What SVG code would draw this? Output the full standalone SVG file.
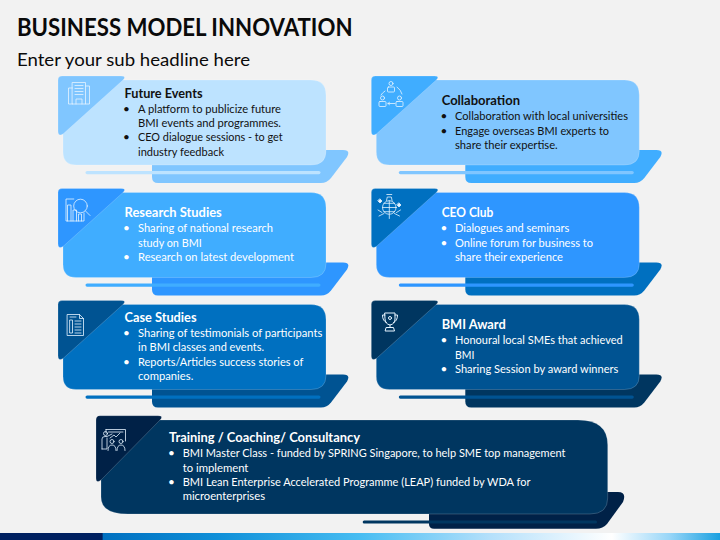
<svg xmlns="http://www.w3.org/2000/svg" xmlns:xlink="http://www.w3.org/1999/xlink" width="720" height="540" viewBox="0 0 720 540">
<style>
text{font-family:"Lato","Liberation Sans",sans-serif;fill:#fff}
.h{font-weight:700;font-size:13.4px}
.b{font-size:11.8px}
.m{text-anchor:middle;font-size:11.8px}
.dk text{fill:#111}
.ic{fill:none;stroke:#e6f4ff;stroke-width:.8;stroke-linecap:round;stroke-linejoin:round}
.edge{stroke:#fff;stroke-opacity:.3;stroke-width:.6}
</style>
<defs>
<linearGradient id="strip" gradientUnits="userSpaceOnUse" x1="0" y1="0" x2="720" y2="0">
<stop offset="0" stop-color="#002060"/><stop offset=".142" stop-color="#002060"/><stop offset=".143" stop-color="#0070c0"/><stop offset=".3" stop-color="#0f8fd8"/><stop offset=".5" stop-color="#47bdf2"/><stop offset=".68" stop-color="#b4e0fb"/><stop offset=".85" stop-color="#fff"/><stop offset=".93" stop-color="#98d6f8"/><stop offset="1" stop-color="#1aa0e0"/>
</linearGradient>
<path id="back" d="M152,155V177Q152,183 158,183H321Q327,183 331,178L347,157Q351,150 343,150H152Z"/>
<path id="main" d="M63,80H311Q326,80 326,95V151Q326,165 311,165H76Q63,165 63,152Z"/>
<rect id="line" x="85.500" y="171" width="235" height="3.200" rx="1.600"/>
<path id="tab" d="M62,76H121Q127,76 123,80L63,134Q58,137 58,131V80Q58,76 62,76Z"/>
</defs>
<rect width="720" height="540" fill="#f2f2f2"/>
<text x="17" y="36" font-size="24" font-weight="700" style="fill:#0a0a0a" textLength="335.500" lengthAdjust="spacingAndGlyphs">BUSINESS MODEL INNOVATION</text>
<text x="17" y="65.700" font-size="18" style="fill:#0a0a0a" textLength="233" lengthAdjust="spacingAndGlyphs">Enter your sub headline here</text>

<g id="connectors"/>

<g id="node-future-events" class="dk">
<use xlink:href="#back" href="#back" fill="#80c6ff"/>
<use xlink:href="#main" href="#main" fill="#bde3ff" class="edge"/>
<use xlink:href="#line" href="#line" fill="#bde3ff"/>
<use xlink:href="#tab" href="#tab" fill="#80c6ff" class="edge"/>
<g class="ic">
<path d="M72.500,82.500H85.500V104H72.500ZM72.500,88H68.500V104H72.500M85.500,86H89.500V104H85.500M76,104V99H82V104M75,85.500h8M75,88.500h8M75,91.500h8M75,94.500h8"/>
</g>
<text class="h" x="124.500" y="98" textLength="78" lengthAdjust="spacingAndGlyphs">Future Events</text>
<text class="m" x="126.500" y="112.700">•</text><text class="b" x="138" y="112.700" textLength="143" lengthAdjust="spacingAndGlyphs">A platform to publicize future</text>
<text class="b" x="138" y="127" textLength="143" lengthAdjust="spacingAndGlyphs">BMI events and programmes.</text>
<text class="m" x="126.500" y="141.300">•</text><text class="b" x="138" y="141.300" textLength="144.700" lengthAdjust="spacingAndGlyphs">CEO dialogue sessions - to get</text>
<text class="b" x="138" y="155.700" textLength="86" lengthAdjust="spacingAndGlyphs">industry feedback</text>
</g>

<g id="node-collaboration" class="dk">
<g transform="translate(313.300,0)">
<use xlink:href="#back" href="#back" fill="#40adff"/>
<use xlink:href="#main" href="#main" fill="#80c6ff" class="edge"/>
<use xlink:href="#line" href="#line" fill="#80c6ff"/>
<use xlink:href="#tab" href="#tab" fill="#40adff" class="edge"/>
</g>
<g class="ic">
<circle cx="391" cy="83.500" r="2"/><rect x="387.500" y="87" width="7" height="5" rx="1"/>
<circle cx="382.500" cy="98" r="2"/><rect x="379" y="101.500" width="7" height="5" rx="1"/>
<circle cx="399.500" cy="98" r="2"/><rect x="396" y="101.500" width="7" height="5" rx="1"/>
<path d="M385,91Q382,93 381,95M397,87Q401,90 402,94M395,103.500H388M388,103.500l1.500,-1.200M388,103.500l1.500,1.200"/>
</g>
<text class="h" x="441.700" y="104.500" textLength="78.300" lengthAdjust="spacingAndGlyphs">Collaboration</text>
<text class="m" x="444" y="120">•</text><text class="b" x="455" y="120" textLength="173" lengthAdjust="spacingAndGlyphs">Collaboration with local universities</text>
<text class="m" x="444" y="134.500">•</text><text class="b" x="455" y="134.500" textLength="154" lengthAdjust="spacingAndGlyphs">Engage overseas BMI experts to</text>
<text class="b" x="455" y="148.700" textLength="102.700" lengthAdjust="spacingAndGlyphs">share their expertise.</text>
</g>

<g id="node-research-studies">
<g transform="translate(0,112.500)">
<use xlink:href="#back" href="#back" fill="#2e96ff"/>
<use xlink:href="#main" href="#main" fill="#40adff" class="edge"/>
<use xlink:href="#line" href="#line" fill="#40adff"/>
<use xlink:href="#tab" href="#tab" fill="#2e96ff" class="edge"/>
</g>
<g class="ic">
<circle cx="80.500" cy="206" r="6.800"/>
<path d="M85.500,211L90,215.500M73.800,199H66V221H84V213M67.500,221V205H71V221M73,221V210H76.500V221M78.500,221V214H81.500V221"/>
</g>
<text class="h" x="124.500" y="217" textLength="97.300" lengthAdjust="spacingAndGlyphs">Research Studies</text>
<text class="m" x="126.500" y="232">•</text><text class="b" x="138" y="232" textLength="135" lengthAdjust="spacingAndGlyphs">Sharing of national research</text>
<text class="b" x="138" y="246.700" textLength="63.700" lengthAdjust="spacingAndGlyphs">study on BMI</text>
<text class="m" x="126.500" y="260.700">•</text><text class="b" x="138" y="260.700" textLength="156" lengthAdjust="spacingAndGlyphs">Research on latest development</text>
</g>

<g id="node-ceo-club">
<g transform="translate(313.300,112.500)">
<use xlink:href="#back" href="#back" fill="#0070c0"/>
<use xlink:href="#main" href="#main" fill="#2e96ff" class="edge"/>
<use xlink:href="#line" href="#line" fill="#2e96ff"/>
<use xlink:href="#tab" href="#tab" fill="#0070c0" class="edge"/>
</g>
<g class="ic">
<circle cx="389.300" cy="207.500" r="6.800"/>
<path d="M382.500,207.500h13.600M389.300,200.700v13.600M384,203.300h10.600M384,211.700h10.600M386.500,200.500l.8,-3.500h4l.8,3.500M386.800,194.500h5M378,210l4,2.500M400.500,210l-4,2.500M379,216l5,-2.500M399.500,216l-5,-2.500M389.300,215v3.500"/>
<path d="M380,199l2,2 -2,2 -2,-2ZM399,203l2,2 -2,2 -2,-2Z" fill="#e6f4ff"/>
</g>
<text class="h" x="441.700" y="217" textLength="51.700" lengthAdjust="spacingAndGlyphs">CEO Club</text>
<text class="m" x="444" y="232">•</text><text class="b" x="455" y="232" textLength="114.300" lengthAdjust="spacingAndGlyphs">Dialogues and seminars</text>
<text class="m" x="444" y="246.700">•</text><text class="b" x="455" y="246.700" textLength="138" lengthAdjust="spacingAndGlyphs">Online forum for business to</text>
<text class="b" x="455" y="260.700" textLength="108" lengthAdjust="spacingAndGlyphs">share their experience</text>
</g>

<g id="node-case-studies">
<g transform="translate(0,224.500)">
<use xlink:href="#back" href="#back" fill="#005392"/>
<use xlink:href="#main" href="#main" fill="#0070c0" class="edge"/>
<use xlink:href="#line" href="#line" fill="#0070c0"/>
<use xlink:href="#tab" href="#tab" fill="#005392" class="edge"/>
</g>
<g class="ic">
<path d="M67.500,314.500H79.500L83.500,318.500V335.500H67.500ZM79.500,314.500V318.500H83.500M70,320H72.500V333H70ZM75,321h6M75,324h6M75,327h6M75,330h6M75,333h6M70,317h6"/>
</g>
<text class="h" x="124.500" y="322" textLength="72" lengthAdjust="spacingAndGlyphs">Case Studies</text>
<text class="m" x="126.500" y="337">•</text><text class="b" x="138" y="337" textLength="184.300" lengthAdjust="spacingAndGlyphs">Sharing of testimonials of participants</text>
<text class="b" x="138" y="351.400" textLength="126" lengthAdjust="spacingAndGlyphs">in BMI classes and events.</text>
<text class="m" x="126.500" y="365.700">•</text><text class="b" x="138" y="365.700" textLength="165.300" lengthAdjust="spacingAndGlyphs">Reports/Articles success stories of</text>
<text class="b" x="138" y="380" textLength="55.300" lengthAdjust="spacingAndGlyphs">companies.</text>
</g>

<g id="node-bmi-award">
<g transform="translate(313.300,224.500)">
<use xlink:href="#back" href="#back" fill="#003660"/>
<use xlink:href="#main" href="#main" fill="#005392" class="edge"/>
<use xlink:href="#line" href="#line" fill="#005392"/>
<use xlink:href="#tab" href="#tab" fill="#003660" class="edge"/>
</g>
<g class="ic" style="stroke-width:1">
<path d="M385,313H395V319Q395,324 390,325Q385,324 385,319ZM385,315H382.500Q382.500,321 386.500,322.500M395,315H397.500Q397.500,321 393.500,322.500M390,325V327.500M386.500,327.500H393.500L394.500,331H385.500Z"/>
<circle cx="390" cy="318" r="1.500"/>
</g>
<text class="h" x="441.700" y="329.300" textLength="64" lengthAdjust="spacingAndGlyphs">BMI Award</text>
<text class="m" x="444" y="344.300">•</text><text class="b" x="455" y="344.300" textLength="167.700" lengthAdjust="spacingAndGlyphs">Honoural local SMEs that achieved</text>
<text class="b" x="455" y="358.700" textLength="19.300" lengthAdjust="spacingAndGlyphs">BMI</text>
<text class="m" x="444" y="373">•</text><text class="b" x="455" y="373" textLength="163.300" lengthAdjust="spacingAndGlyphs">Sharing Session by award winners</text>
</g>

<g id="node-training">
<path d="M429,500V524Q429,528.700 434,528.700H596Q603,528.700 607,524L623,502Q627,492 618,492H429Z" fill="#002147"/>
<path d="M101,420H578Q607.700,420 607.700,445V498Q607.700,514 590,514H128Q101,514 101,497Z" fill="#003660" class="edge"/>
<rect x="362.700" y="520.500" width="234.300" height="3" rx="1.500" fill="#003660"/>
<path d="M100,415.700H158Q164,415.700 160,420L101,480Q96,484 96,478V420Q96,415.700 100,415.700Z" fill="#002147" class="edge"/>
<g class="ic">
<path d="M106,429.500H125.500V441M106,429.500V433M108.500,432H123M110,438l4,-3 2,2 4,-4"/>
<circle cx="105.500" cy="433.500" r="2"/>
<path d="M102,449V439Q102,436.500 105,436.500H107L112,434M107,438V449H102"/>
<circle cx="112" cy="441.500" r="2"/><circle cx="121" cy="441.500" r="2"/>
<path d="M108,450.500Q108,445 112,445Q116,445 116,450.500M117,450.500Q117,445 121,445Q125,445 125,450.500"/>
</g>
<text class="h" x="169" y="442" textLength="191" lengthAdjust="spacingAndGlyphs">Training / Coaching/ Consultancy</text>
<text class="m" x="171.500" y="457">•</text><text class="b" x="182.700" y="457" textLength="382.700" lengthAdjust="spacingAndGlyphs">BMI Master Class - funded by SPRING Singapore, to help SME top management</text>
<text class="b" x="182.700" y="471.700" textLength="65.700" lengthAdjust="spacingAndGlyphs">to implement</text>
<text class="m" x="171.500" y="485.700">•</text><text class="b" x="182.700" y="485.700" textLength="347.700" lengthAdjust="spacingAndGlyphs">BMI Lean Enterprise Accelerated Programme (LEAP) funded by WDA for</text>
<text class="b" x="182.700" y="500" textLength="82.300" lengthAdjust="spacingAndGlyphs">microenterprises</text>
</g>

<rect x="0" y="533" width="720" height="7" fill="url(#strip)"/>
</svg>
